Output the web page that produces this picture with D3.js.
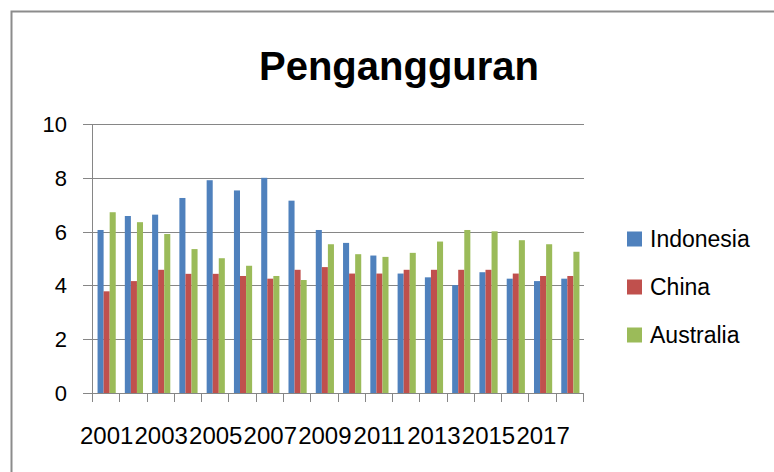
<!DOCTYPE html>
<html>
<head>
<meta charset="utf-8">
<script src="https://cdn.jsdelivr.net/npm/d3@7"></script>
<style>
  body { margin: 0; background: #fff; }
  svg { display: block; font-family: "Liberation Sans", Arial, sans-serif; }
</style>
</head>
<body>
<div id="chart-container"></div>
<script>
// Data
const years = ["2001", "2002", "2003", "2004", "2005", "2006", "2007", "2008", "2009",
  "2010", "2011", "2012", "2013", "2014", "2015", "2016", "2017", "2018"];
const seriesNames = ["Indonesia", "China", "Australia"];
const indonesia = [6.06, 6.58, 6.63, 7.25, 7.91, 7.53, 8.0, 7.15, 6.06,
  5.58, 5.11, 4.44, 4.30, 4.01, 4.49, 4.25, 4.16, 4.25];
const china = [3.78, 4.16, 4.58, 4.43, 4.43, 4.35, 4.25, 4.58, 4.68,
  4.44, 4.44, 4.58, 4.58, 4.58, 4.58, 4.44, 4.35, 4.35];
const australia = [6.72, 6.35, 5.91, 5.35, 5.01, 4.73, 4.35, 4.2, 5.53,
  5.16, 5.06, 5.21, 5.63, 6.06, 6.01, 5.68, 5.53, 5.25];
const yTicks = [0, 2, 4, 6, 8, 10];
const xLabels = ["2001", "2003", "2005", "2007", "2009", "2011", "2013", "2015", "2017"];
const colors = ["#4F81BD", "#C0504D", "#9BBB59"];

const values = [indonesia, china, australia];

// Set dimensions and margins for the chart
const W = 774, H = 472;
const margin = { top: 124, right: 190, bottom: 79, left: 93 };
const width = 584 - margin.left;
const height = 393 - margin.top;

const svg = d3.select("#chart-container")
  .append("svg")
  .attr("width", W)
  .attr("height", H);

// Outer chart border (runs off the right and bottom edges)
svg.append("path")
  .attr("d", `M11.5,${H + 5}V11.5H${W + 5}`)
  .attr("fill", "none")
  .attr("stroke", "#8c8c8c")
  .attr("stroke-width", 2);

// Title
svg.append("text")
  .attr("x", 399)
  .attr("y", 80)
  .attr("text-anchor", "middle")
  .style("font-size", "40px")
  .style("font-weight", "bold")
  .attr("fill", "#000")
  .text("Pengangguran");

const g = svg.append("g")
  .attr("transform", `translate(${margin.left},${margin.top})`);

// Scales
const x0 = d3.scaleBand().domain(years).range([0, width]).padding(0);
const x1 = d3.scaleBand().domain(seriesNames).range([0, x0.bandwidth()])
  .paddingInner(0).paddingOuter(0.75);
const y = d3.scaleLinear().domain([0, 10]).range([height, 0]);

// Gridlines with left tick marks
g.append("g")
  .selectAll("line")
  .data(yTicks)
  .enter().append("line")
  .attr("x1", -10)
  .attr("x2", width)
  .attr("y1", d => Math.round(y(d)) + 0.5)
  .attr("y2", d => Math.round(y(d)) + 0.5)
  .attr("stroke", "#868686")
  .attr("stroke-width", 1);

// Y labels
g.append("g")
  .selectAll("text")
  .data(yTicks)
  .enter().append("text")
  .attr("x", -26)
  .attr("y", d => y(d))
  .attr("dy", "0.36em")
  .attr("text-anchor", "end")
  .style("font-size", "22px")
  .attr("fill", "#000")
  .text(d => d);

// Bars
const groups = g.append("g")
  .selectAll("g")
  .data(years)
  .enter().append("g")
  .attr("transform", d => `translate(${x0(d)},0)`);

groups.selectAll("rect")
  .data((d, i) => seriesNames.map((s, k) => ({ s: s, v: values[k][i], k: k })))
  .enter().append("rect")
  .attr("x", d => x1(d.s))
  .attr("width", x1.bandwidth())
  .attr("y", d => y(d.v))
  .attr("height", d => y(0) - y(d.v))
  .attr("fill", d => colors[d.k]);

// Y axis line
g.append("line")
  .attr("x1", -0.5).attr("x2", -0.5)
  .attr("y1", 0).attr("y2", height)
  .attr("stroke", "#868686");

// X axis line and tick marks at category boundaries
g.append("line")
  .attr("x1", -10).attr("x2", width)
  .attr("y1", Math.round(height) + 0.5).attr("y2", Math.round(height) + 0.5)
  .attr("stroke", "#868686");

const boundaries = years.map(d => x0(d)).concat([width]);
g.append("g")
  .selectAll("line")
  .data(boundaries)
  .enter().append("line")
  .attr("x1", d => Math.round(d) - 0.5)
  .attr("x2", d => Math.round(d) - 0.5)
  .attr("y1", height)
  .attr("y2", height + 9)
  .attr("stroke", "#868686");

// X labels (every other year)
g.append("g")
  .selectAll("text")
  .data(xLabels)
  .enter().append("text")
  .attr("x", d => x0(d) + x0.bandwidth() / 2)
  .attr("y", height + 51)
  .attr("text-anchor", "middle")
  .style("font-size", "24px")
  .attr("fill", "#000")
  .text(d => d);

// Legend
const legend = svg.append("g")
  .selectAll("g")
  .data(seriesNames)
  .enter().append("g")
  .attr("transform", (d, i) => `translate(627,${239 + i * 48})`);

legend.append("rect")
  .attr("x", 0)
  .attr("y", -7.5)
  .attr("width", 15)
  .attr("height", 15)
  .attr("fill", (d, i) => colors[i]);

legend.append("text")
  .attr("x", 23)
  .attr("y", 0)
  .attr("dy", "0.36em")
  .style("font-size", "23px")
  .attr("fill", "#000")
  .text(d => d);
</script>
</body>
</html>
